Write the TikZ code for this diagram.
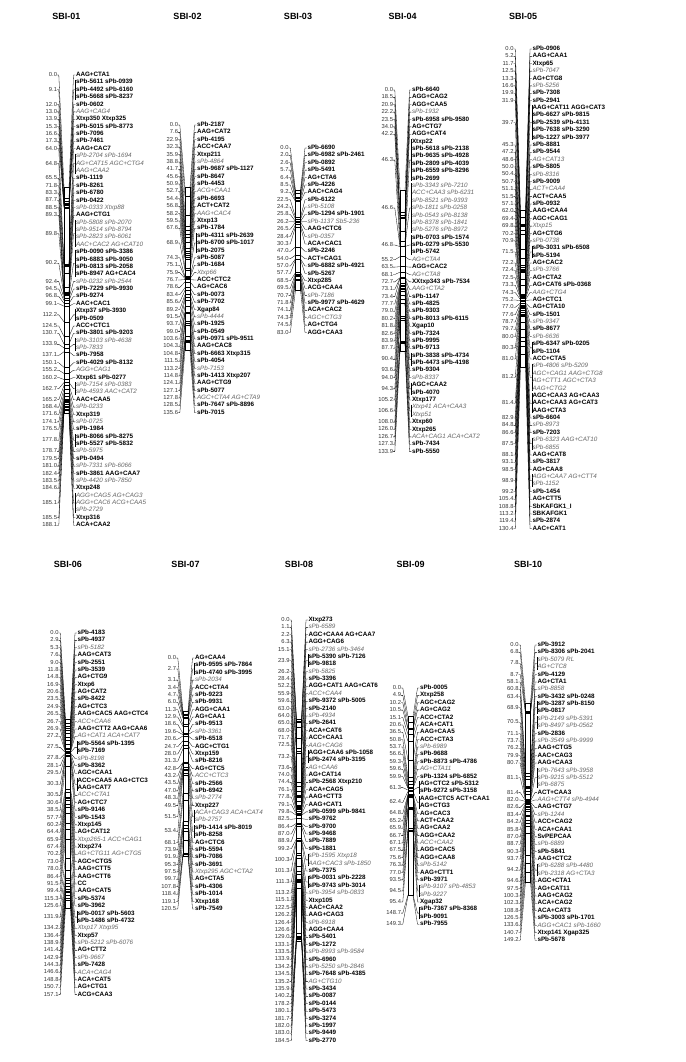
\documentclass[tikz,border=0pt]{standalone}
\usepackage{fontspec}
\setmainfont{Liberation Sans}
\newcount\Clnc \newcount\Cgnc
\def\Cdy{7.38}\def\Ccms{1.2}
\tikzset{
 num/.style={anchor=east, inner sep=0pt, outer sep=0pt, font=\fontsize{5.8}{6}\selectfont, text=black!80, text height=4pt, text depth=1pt},
 lb/.style={anchor=west, inner sep=0pt, outer sep=0pt, font=\fontsize{6.3}{6.5}\selectfont\bfseries, text height=4.4pt, text depth=1.3pt},
 li/.style={lb, font=\fontsize{6.3}{6.5}\selectfont\itshape, text=black!60},
 con/.style={line width=0.3pt, black},
 tickln/.style={line width=0.5pt, black},
 chrbar/.style={draw, line width=0.4pt, fill=white, minimum width=5pt, inner sep=0pt, outer sep=0pt},
 ttl/.style={font=\fontsize{9}{10}\selectfont\bfseries}
}
\newcommand\chrom[5]{%
  \xdef\Cid{#1}\xdef\Cxb{#2}\xdef\Cyone{#3}%
  \global\Clnc=0 \global\Cgnc=0
  \pgfmathsetmacro\Ctmpc{#3+(#4-1)*\Cdy/2}%
  \pgfmathsetmacro\Ctmpb{\Ctmpc-#5*\Ccms/2}\xdef\Cbtop{\Ctmpb}%
  \pgfmathsetmacro\Ctmph{#5*\Ccms}%
  \node[chrbar, minimum height=\Ctmph pt, anchor=north] (#1-bar) at (\Cxb,-\Cbtop) {};
}
\newcommand\mg[2]{%
  \global\advance\Cgnc by 1
  \pgfmathsetmacro\Cyg{\Cyone+(\the\Clnc+(#2-1)/2)*\Cdy}%
  \pgfmathsetmacro\Cyb{\Cbtop+#1*\Ccms}%
  \node[num] (\Cid-n\the\Cgnc) at (\Cxb-9.5,-\Cyg) {#1};
  \coordinate (\Cid-a\the\Cgnc) at (\Cxb-2.5,-\Cyb);
  \coordinate (\Cid-b\the\Cgnc) at (\Cxb+2.5,-\Cyb);
  \coordinate (\Cid-e\the\Cgnc) at (\Cxb+7,-\Cyg);
  \coordinate (\Cid-c\the\Cgnc) at (\Cxb+8.8,-\Cyg);
  \draw[con] (\Cid-n\the\Cgnc.east) -- ++(1.8,0) -- (\Cid-a\the\Cgnc);
  \draw[tickln] (\Cid-a\the\Cgnc) -- (\Cid-b\the\Cgnc);
  \draw[con] (\Cid-b\the\Cgnc) -- (\Cid-e\the\Cgnc) -- (\Cid-c\the\Cgnc);
  \ifnum#2>1\relax
    \coordinate (\Cid-f\the\Cgnc) at (\Cxb+8.8,-\Cyone-\the\Clnc*\Cdy+2.6);
    \coordinate (\Cid-g\the\Cgnc) at (\Cxb+8.8,-\Cyone-\the\Clnc*\Cdy-#2*\Cdy+\Cdy-2.6);
    \draw[con] (\Cid-f\the\Cgnc) -- (\Cid-g\the\Cgnc);
  \fi
}
\newcommand\mb[1]{\node[lb] (\Cid-l\the\Clnc) at (\Cxb+9.5,-\Cyone-\the\Clnc*\Cdy) {#1};\global\advance\Clnc by 1 }
\newcommand\mi[1]{\node[li] (\Cid-l\the\Clnc) at (\Cxb+9.5,-\Cyone-\the\Clnc*\Cdy) {#1};\global\advance\Clnc by 1 }
\begin{document}
\begin{tikzpicture}[x=1pt,y=1pt]
\fill[white] (0,0) rectangle (685,-1062);
\useasboundingbox (0,0) rectangle (685,-1062);
% titles
\node[ttl] (t1) at (66.5,-16) {SBI-01};
\node[ttl] (t2) at (187.5,-16) {SBI-02};
\node[ttl] (t3) at (298,-16) {SBI-03};
\node[ttl] (t4) at (402.5,-16) {SBI-04};
\node[ttl] (t5) at (523,-16) {SBI-05};
\node[ttl] (t6) at (68,-564) {SBI-06};
\node[ttl] (t7) at (185.5,-564) {SBI-07};
\node[ttl] (t8) at (299,-564) {SBI-08};
\node[ttl] (t9) at (410.5,-564) {SBI-09};
\node[ttl] (t10) at (528,-564) {SBI-10};
% SBI-01
\chrom{c1}{66.5}{75}{62}{188.1}
\mg{0.0}{1}\mb{AAG+CTA1}
\mg{9.1}{3}\mb{sPb-5611 sPb-0939}\mb{sPb-4492 sPb-6160}\mb{sPb-5668 sPb-8237}
\mg{12.0}{1}\mb{sPb-0602}
\mg{13.0}{1}\mi{AAG+CAG4}
\mg{13.9}{1}\mb{Xtxp350 Xtxp325}
\mg{15.3}{1}\mb{sPb-5015 sPb-8773}
\mg{16.6}{1}\mb{sPb-7096}
\mg{17.3}{1}\mb{sPb-7461}
\mg{64.0}{1}\mb{AAG+CAC7}
\mg{64.8}{3}\mi{sPb-2704 sPb-1694}\mi{AG+CAT15 AGC+CTG4}\mi{AAG+CAA2}
\mg{65.5}{1}\mb{sPb-1119}
\mg{71.8}{1}\mb{sPb-8261}
\mg{83.3}{1}\mb{sPb-6780}
\mg{87.7}{1}\mb{sPb-0422}
\mg{88.5}{1}\mi{sPb-0333 Xtxp88}
\mg{89.3}{1}\mb{AAG+CTG1}
\mg{89.8}{4}\mi{sPb-5808 sPb-2070}\mi{sPb-9514 sPb-8794}\mi{sPb-2823 sPb-6061}\mi{AAC+CAC2 AG+CAT10}
\mg{90.2}{4}\mb{sPb-0090 sPb-3386}\mb{sPb-6883 sPb-9050}\mb{sPb-0813 sPb-2058}\mb{sPb-8947 AG+CAC4}
\mg{92.4}{1}\mi{sPb-0232 sPb-2544}
\mg{94.5}{1}\mb{sPb-7229 sPb-9930}
\mg{96.8}{1}\mb{sPb-9274}
\mg{99.1}{1}\mb{AAC+CAC1}
\mg{112.2}{2}\mb{Xtxp37 sPb-3930}\mb{sPb-0509}
\mg{124.5}{1}\mb{ACC+CTC1}
\mg{130.7}{1}\mb{sPb-3801 sPb-9203}
\mg{133.9}{2}\mi{sPb-3103 sPb-4638}\mi{sPb-7833}
\mg{137.1}{1}\mb{sPb-7958}
\mg{150.1}{1}\mb{sPb-4029 sPb-8132}
\mg{155.2}{1}\mi{AGG+CAG1}
\mg{160.2}{1}\mb{Xtxp61 sPb-0277}
\mg{162.7}{2}\mi{sPb-7154 sPb-0383}\mi{sPb-4593 AAC+CAT2}
\mg{165.2}{1}\mb{AAC+CAA5}
\mg{168.4}{1}\mi{sPb-0233}
\mg{171.6}{1}\mb{Xtxp319}
\mg{174.1}{1}\mi{sPb-0725}
\mg{176.5}{1}\mb{sPb-1984}
\mg{177.8}{2}\mb{sPb-8066 sPb-8275}\mb{sPb-5527 sPb-5832}
\mg{178.7}{1}\mi{sPb-5975}
\mg{179.5}{1}\mb{sPb-0494}
\mg{181.0}{1}\mi{sPb-7331 sPb-6066}
\mg{182.4}{1}\mb{sPb-3861 AAG+CAA7}
\mg{183.5}{1}\mi{sPb-4420 sPb-7850}
\mg{184.6}{1}\mb{Xtxp248}
\mg{185.1}{3}\mi{AGG+CAG5 AG+CAG3}\mi{AGG+CAC6 ACG+CAA5}\mi{sPb-2729}
\mg{185.5}{1}\mb{Xtxp316}
\mg{188.1}{1}\mb{ACA+CAA2}
% SBI-02
\chrom{c2}{187.5}{125}{40}{135.6}
\mg{0.0}{1}\mb{sPb-2187}
\mg{7.6}{1}\mb{AAG+CAT2}
\mg{22.9}{1}\mb{sPb-4195}
\mg{32.3}{1}\mb{ACC+CAA7}
\mg{35.9}{1}\mb{Xtxp211}
\mg{38.8}{1}\mi{sPb-4864}
\mg{41.7}{1}\mb{sPb-9687 sPb-1127}
\mg{45.6}{1}\mb{sPb-8647}
\mg{50.9}{1}\mb{sPb-4453}
\mg{52.7}{1}\mi{ACG+CAA1}
\mg{54.4}{1}\mb{sPb-6693}
\mg{56.8}{1}\mb{ACT+CAT2}
\mg{58.2}{1}\mi{AAG+CAC4}
\mg{59.5}{1}\mb{Xtxp13}
\mg{67.6}{1}\mb{sPb-1784}
\mg{68.9}{3}\mb{sPb-4311 sPb-2639}\mb{sPb-6700 sPb-1017}\mb{sPb-2075}
\mg{74.3}{1}\mb{sPb-5087}
\mg{75.1}{1}\mb{sPb-1684}
\mg{75.9}{1}\mi{Xtxp66}
\mg{76.7}{1}\mb{ACC+CTC2}
\mg{78.6}{1}\mb{AG+CAC6}
\mg{83.4}{1}\mb{sPb-0073}
\mg{85.6}{1}\mb{sPb-7702}
\mg{89.2}{1}\mb{Xgap84}
\mg{91.5}{1}\mi{sPb-4444}
\mg{93.7}{1}\mb{sPb-1925}
\mg{99.0}{1}\mb{sPb-0549}
\mg{103.6}{1}\mb{sPb-0971 sPb-9511}
\mg{104.3}{1}\mb{AAG+CAC8}
\mg{104.8}{1}\mb{sPb-6663 Xtxp315}
\mg{111.5}{1}\mb{sPb-4054}
\mg{113.2}{1}\mi{sPb-7153}
\mg{114.8}{1}\mb{sPb-1413 Xtxp207}
\mg{124.1}{1}\mb{AAG+CTG9}
\mg{127.1}{1}\mb{sPb-5077}
\mg{127.8}{1}\mi{AGC+CTA4 AG+CTA9}
\mg{128.5}{1}\mb{sPb-7647 sPb-8896}
\mg{135.6}{1}\mb{sPb-7015}
% SBI-03
\chrom{c3}{298}{148}{26}{83.0}
\mg{0.0}{1}\mb{sPb-6690}
\mg{2.0}{1}\mb{sPb-6982 sPb-2461}
\mg{2.6}{1}\mb{sPb-0892}
\mg{5.7}{1}\mb{sPb-5491}
\mg{6.4}{1}\mb{AG+CTA6}
\mg{8.5}{1}\mb{sPb-4226}
\mg{9.2}{1}\mb{AAC+CAG4}
\mg{22.5}{1}\mb{sPb-6122}
\mg{24.2}{1}\mi{sPb-5108}
\mg{25.8}{1}\mb{sPb-1294 sPb-1901}
\mg{26.2}{1}\mi{sPb-1137 Sb5-236}
\mg{26.5}{1}\mb{AAG+CTC6}
\mg{28.4}{1}\mi{sPb-0357}
\mg{30.3}{1}\mb{ACA+CAC1}
\mg{47.0}{1}\mb{sPb-2246}
\mg{54.0}{1}\mb{ACT+CAG1}
\mg{57.0}{1}\mb{sPb-6882 sPb-4921}
\mg{57.7}{1}\mb{sPb-5267}
\mg{68.5}{1}\mb{Xtxp285}
\mg{69.5}{1}\mb{ACG+CAA4}
\mg{70.7}{1}\mi{sPb-7186}
\mg{71.8}{1}\mb{sPb-9977 sPb-4629}
\mg{74.1}{1}\mb{ACA+CAC2}
\mg{74.3}{1}\mi{AGC+CTG3}
\mg{74.5}{1}\mb{AG+CTG4}
\mg{83.0}{1}\mb{AGG+CAA3}
% SBI-04
\chrom{c4}{402.5}{90}{50}{133.9}
\mg{0.0}{1}\mb{sPb-6640}
\mg{18.5}{1}\mb{AGG+CAG2}
\mg{20.9}{1}\mb{AGG+CAA5}
\mg{22.2}{1}\mi{sPb-1932}
\mg{23.5}{1}\mb{sPb-6958 sPb-9580}
\mg{34.0}{1}\mb{AG+CTG7}
\mg{42.2}{1}\mb{AGG+CAT4}
\mg{46.3}{6}\mb{Xtxp22}\mb{sPb-5618 sPb-2138}\mb{sPb-9635 sPb-4928}\mb{sPb-2809 sPb-4039}\mb{sPb-6559 sPb-8296}\mb{sPb-2699}
\mg{46.6}{7}\mi{sPb-3343 sPb-7210}\mi{ACC+CAA3 sPb-6231}\mi{sPb-8521 sPb-9393}\mi{sPb-1811 sPb-0258}\mi{sPb-0543 sPb-8138}\mi{sPb-8378 sPb-1841}\mi{sPb-5276 sPb-8972}
\mg{46.8}{3}\mb{sPb-0703 sPb-1574}\mb{sPb-0279 sPb-5530}\mb{sPb-5742}
\mg{55.2}{1}\mi{AG+CTA4}
\mg{63.5}{1}\mb{AGG+CAC2}
\mg{68.1}{1}\mi{AG+CTA8}
\mg{72.7}{1}\mb{XXtxp343 sPb-7534}
\mg{73.1}{1}\mi{AAG+CTA2}
\mg{73.4}{1}\mb{sPb-1147}
\mg{77.7}{1}\mb{sPb-4825}
\mg{79.0}{1}\mb{sPb-9303}
\mg{80.2}{1}\mb{sPb-8013 sPb-6115}
\mg{81.8}{1}\mb{Xgap10}
\mg{82.6}{1}\mb{sPb-7324}
\mg{83.9}{1}\mb{sPb-9995}
\mg{87.7}{1}\mb{sPb-9713}
\mg{90.4}{2}\mb{sPb-3838 sPb-4734}\mb{sPb-4473 sPb-4198}
\mg{93.6}{1}\mb{sPb-9304}
\mg{94.0}{1}\mi{sPb-8337}
\mg{94.3}{2}\mb{AGC+CAA2}\mb{sPb-4070}
\mg{105.2}{1}\mb{Xtxp177}
\mg{106.6}{2}\mi{Xtxp41 ACA+CAA3}\mi{Xtxp51}
\mg{108.0}{1}\mb{Xtxp60}
\mg{126.0}{1}\mb{Xtxp265}
\mg{126.7}{1}\mi{ACA+CAG1 ACA+CAT2}
\mg{127.3}{1}\mb{sPb-7434}
\mg{133.9}{1}\mb{sPb-5550}
% SBI-05
\chrom{c5}{523}{49}{66}{130.4}
\mg{0.0}{1}\mb{sPb-0906}
\mg{5.2}{1}\mb{AAG+CAA1}
\mg{11.7}{1}\mb{Xtxp65}
\mg{12.5}{1}\mi{sPb-7047}
\mg{13.3}{1}\mb{AG+CTG8}
\mg{16.6}{1}\mi{sPb-5256}
\mg{19.9}{1}\mb{sPb-7308}
\mg{31.9}{1}\mb{sPb-2941}
\mg{39.7}{5}\mb{AAG+CAT11 AGG+CAT3}\mb{sPb-6627 sPb-9815}\mb{sPb-2539 sPb-4131}\mb{sPb-7638 sPb-3290}\mb{sPb-1227 sPb-3977}
\mg{45.3}{1}\mb{sPb-8881}
\mg{47.2}{1}\mb{sPb-9544}
\mg{48.6}{1}\mi{AG+CAT13}
\mg{50.0}{1}\mb{sPb-5805}
\mg{50.4}{1}\mi{sPb-8316}
\mg{50.7}{1}\mb{sPb-9009}
\mg{51.1}{1}\mi{ACT+CAA4}
\mg{51.5}{1}\mb{ACT+CAA5}
\mg{57.1}{1}\mb{sPb-0932}
\mg{62.0}{1}\mb{AAG+CAA4}
\mg{69.4}{1}\mb{AGC+CAG1}
\mg{69.8}{1}\mi{Xtxp15}
\mg{70.2}{1}\mb{AG+CTG6}
\mg{70.9}{1}\mi{sPb-0738}
\mg{71.5}{2}\mb{sPb-3031 sPb-6508}\mb{sPb-5194}
\mg{72.2}{1}\mb{AG+CAC2}
\mg{72.4}{1}\mi{sPb-3766}
\mg{72.5}{1}\mb{AG+CTA2}
\mg{73.3}{1}\mb{AG+CAT6 sPb-0368}
\mg{74.3}{1}\mi{AAG+CTG4}
\mg{75.2}{1}\mb{AG+CTC1}
\mg{77.0}{1}\mb{AG+CTA10}
\mg{77.6}{1}\mb{sPb-1501}
\mg{78.7}{1}\mi{sPb-9347}
\mg{79.7}{1}\mb{sPb-8677}
\mg{80.0}{1}\mi{sPb-6636}
\mg{80.3}{2}\mb{sPb-6347 sPb-0205}\mb{sPb-1104}
\mg{81.0}{1}\mb{ACC+CTA5}
\mg{81.2}{4}\mi{sPb-4806 sPb-5209}\mi{AGC+CAG1 AAG+CTG8}\mi{AG+CTT1 AGC+CTA3}\mi{AAG+CTG2}
\mg{81.4}{3}\mb{AGC+CAA3 AG+CAA3}\mb{AAC+CAA3 AG+CAT3}\mb{AAG+CTA3}
\mg{82.9}{1}\mb{sPb-6604}
\mg{84.8}{1}\mi{sPb-8973}
\mg{86.6}{1}\mb{sPb-7203}
\mg{87.5}{2}\mi{sPb-6323 AAG+CAT10}\mi{sPb-6855}
\mg{88.1}{1}\mb{AAG+CAT8}
\mg{93.1}{1}\mb{sPb-3817}
\mg{98.5}{1}\mb{AG+CAA8}
\mg{98.9}{2}\mi{AGG+CAA7 AG+CTT4}\mi{sPb-1152}
\mg{99.2}{1}\mb{sPb-1454}
\mg{105.4}{1}\mb{AG+CTT5}
\mg{108.8}{1}\mb{SbKAFGK1\_I}
\mg{113.2}{1}\mb{SBKAFGK1}
\mg{119.4}{1}\mb{sPb-2874}
\mg{130.4}{1}\mb{AAC+CAT1}
% SBI-06
\chrom{c6}{68}{633}{50}{157.1}
\mg{0.0}{1}\mb{sPb-4183}
\mg{2.9}{1}\mb{sPb-4937}
\mg{5.3}{1}\mi{sPb-5182}
\mg{7.6}{1}\mb{AAG+CAT3}
\mg{9.0}{1}\mb{sPb-2551}
\mg{11.8}{1}\mb{sPb-3539}
\mg{14.8}{1}\mb{AG+CTG9}
\mg{16.9}{1}\mb{Xtxp6}
\mg{20.6}{1}\mb{AG+CAT2}
\mg{23.5}{1}\mb{sPb-8422}
\mg{24.9}{1}\mb{AG+CTC3}
\mg{26.5}{1}\mb{AAG+CAC5 AAG+CTC4}
\mg{26.7}{1}\mi{ACC+CAA6}
\mg{26.9}{1}\mb{AAG+CTT2 AAG+CAA6}
\mg{27.2}{1}\mi{AG+CAT1 ACA+CAT7}
\mg{27.5}{2}\mb{sPb-5564 sPb-1395}\mb{sPb-7169}
\mg{27.8}{1}\mi{sPb-8198}
\mg{28.1}{1}\mb{sPb-8362}
\mg{29.5}{1}\mb{AGC+CAA1}
\mg{30.3}{2}\mb{ACC+CAA5 AAG+CTC3}\mb{AAG+CAT7}
\mg{30.5}{1}\mi{ACC+CTA1}
\mg{30.6}{1}\mb{AG+CTC7}
\mg{38.5}{1}\mb{sPb-9146}
\mg{57.7}{1}\mb{sPb-1543}
\mg{60.2}{1}\mb{Xtxp145}
\mg{64.4}{1}\mb{AG+CAT12}
\mg{65.9}{1}\mi{Xtxp265-1 ACC+CAG1}
\mg{67.4}{1}\mb{Xtxp274}
\mg{70.2}{1}\mi{AG+CTG11 AG+CTG5}
\mg{73.0}{1}\mb{AGC+CTG5}
\mg{78.0}{1}\mb{AAG+CTT5}
\mg{86.4}{1}\mb{AAG+CTT6}
\mg{91.5}{1}\mb{CC}
\mg{99.4}{1}\mb{AAG+CAT5}
\mg{115.3}{1}\mb{sPb-5374}
\mg{125.6}{1}\mb{sPb-3962}
\mg{131.9}{2}\mb{sPb-0017 sPb-5603}\mb{sPb-1486 sPb-4732}
\mg{134.2}{1}\mi{Xtxp17 Xtxp95}
\mg{136.4}{1}\mb{Xtxp57}
\mg{138.9}{1}\mi{sPb-5212 sPb-6076}
\mg{141.4}{1}\mb{AG+CTT2}
\mg{142.9}{1}\mi{sPb-9667}
\mg{144.3}{1}\mb{sPb-7428}
\mg{146.6}{1}\mi{ACA+CAG4}
\mg{148.8}{1}\mb{ACA+CAT5}
\mg{150.7}{1}\mb{AG+CTG1}
\mg{157.1}{1}\mb{ACG+CAA3}
% SBI-07
\chrom{c7}{185.5}{658}{35}{120.5}
\mg{0.0}{1}\mb{AG+CAA4}
\mg{2.7}{2}\mb{sPb-9595 sPb-7864}\mb{sPb-4740 sPb-3995}
\mg{3.1}{1}\mi{sPb-2034}
\mg{3.4}{1}\mb{ACC+CTA4}
\mg{4.7}{1}\mb{sPb-9223}
\mg{6.0}{1}\mb{sPb-9931}
\mg{11.3}{1}\mb{AGG+CAA1}
\mg{12.9}{1}\mb{AG+CAA1}
\mg{18.6}{1}\mb{sPb-9513}
\mg{19.6}{1}\mi{sPb-3361}
\mg{20.6}{1}\mb{sPb-6518}
\mg{24.7}{1}\mb{AGC+CTG1}
\mg{28.0}{1}\mb{Xtxp159}
\mg{31.3}{1}\mb{sPb-8216}
\mg{42.8}{1}\mb{AG+CTC5}
\mg{43.2}{1}\mi{ACC+CTC3}
\mg{43.5}{1}\mb{sPb-2566}
\mg{47.0}{1}\mb{sPb-6942}
\mg{48.3}{1}\mi{sPb-2774}
\mg{49.5}{1}\mb{Xtxp227}
\mg{51.5}{2}\mi{ACA+CAG3 ACA+CAT4}\mi{sPb-2757}
\mg{53.4}{2}\mb{sPb-1414 sPb-8019}\mb{sPb-8258}
\mg{68.1}{1}\mb{AG+CTC6}
\mg{73.9}{1}\mb{sPb-5594}
\mg{91.9}{1}\mb{sPb-7086}
\mg{95.3}{1}\mb{sPb-3691}
\mg{97.5}{1}\mi{Xtxp295 AGC+CTA2}
\mg{99.7}{1}\mb{AG+CTA5}
\mg{107.8}{1}\mb{sPb-4306}
\mg{118.4}{1}\mb{sPb-1014}
\mg{119.1}{1}\mb{Xtxp168}
\mg{120.5}{1}\mb{sPb-7549}
% SBI-08
\chrom{c8}{299}{620}{58}{184.5}
\mg{0.0}{1}\mb{Xtxp273}
\mg{1.1}{1}\mi{sPb-6589}
\mg{2.2}{1}\mb{AGC+CAA4 AG+CAA7}
\mg{6.3}{1}\mb{AGG+CAG6}
\mg{15.1}{1}\mi{sPb-2736 sPb-3464}
\mg{23.9}{2}\mb{sPb-5390 sPb-7126}\mb{sPb-9818}
\mg{26.2}{1}\mi{sPb-5825}
\mg{28.4}{1}\mb{sPb-3396}
\mg{52.2}{1}\mb{AGG+CAT1 AAG+CAT6}
\mg{55.9}{1}\mi{ACC+CAA4}
\mg{59.6}{1}\mb{sPb-9372 sPb-5005}
\mg{63.0}{1}\mb{sPb-2140}
\mg{64.0}{1}\mi{sPb-4934}
\mg{65.0}{1}\mb{sPb-2641}
\mg{68.0}{1}\mb{ACA+CAT6}
\mg{71.7}{1}\mb{ACC+CAA1}
\mg{72.5}{1}\mi{AAG+CAG6}
\mg{73.2}{2}\mb{AGG+CAA6 sPb-1058}\mb{sPb-2474 sPb-3195}
\mg{73.6}{1}\mi{AG+CAA6}
\mg{74.0}{1}\mb{AG+CAT14}
\mg{74.4}{1}\mb{sPb-2568 Xtxp210}
\mg{76.1}{1}\mb{ACA+CAG5}
\mg{77.8}{1}\mb{AAG+CTT3}
\mg{79.1}{1}\mb{AAG+CAT1}
\mg{79.8}{1}\mb{sPb-0599 sPb-9841}
\mg{82.5}{1}\mb{sPb-9762}
\mg{86.4}{1}\mb{sPb-9700}
\mg{87.0}{1}\mb{sPb-9468}
\mg{88.9}{1}\mb{sPb-7889}
\mg{99.2}{1}\mb{sPb-1881}
\mg{100.3}{2}\mi{sPb-1595 Xtxp18}\mi{AAG+CAC3 sPb-1850}
\mg{101.3}{1}\mb{sPb-7375}
\mg{111.3}{2}\mb{sPb-0031 sPb-2228}\mb{sPb-9743 sPb-3014}
\mg{113.2}{1}\mi{sPb-3954 sPb-0833}
\mg{115.1}{1}\mb{Xtxp105}
\mg{122.5}{1}\mb{AAC+CAA2}
\mg{126.2}{1}\mb{AAG+CAG3}
\mg{126.4}{1}\mi{sPb-6918}
\mg{126.6}{1}\mb{AGG+CAA4}
\mg{129.0}{1}\mb{sPb-5401}
\mg{133.1}{1}\mb{sPb-1272}
\mg{133.5}{1}\mi{sPb-8993 sPb-9584}
\mg{133.9}{1}\mb{sPb-6960}
\mg{134.2}{1}\mi{sPb-5250 sPb-2846}
\mg{134.5}{1}\mb{sPb-7648 sPb-4385}
\mg{135.2}{1}\mi{AG+CTG10}
\mg{135.9}{1}\mb{sPb-3434}
\mg{140.2}{1}\mb{sPb-0087}
\mg{178.2}{1}\mb{sPb-0144}
\mg{180.1}{1}\mb{sPb-5473}
\mg{181.7}{1}\mb{sPb-3274}
\mg{182.0}{1}\mb{sPb-1997}
\mg{183.0}{1}\mb{sPb-9449}
\mg{184.5}{1}\mb{sPb-2770}
% SBI-09
\chrom{c9}{410.5}{688}{33}{149.3}
\mg{0.0}{1}\mb{sPb-0005}
\mg{4.9}{1}\mb{Xtxp258}
\mg{10.2}{1}\mb{AGC+CAG2}
\mg{10.5}{1}\mb{AG+CAG2}
\mg{15.1}{1}\mb{ACC+CTA2}
\mg{20.6}{1}\mb{ACA+CAT1}
\mg{36.5}{1}\mb{AAG+CAA5}
\mg{50.8}{1}\mb{ACC+CTA3}
\mg{53.7}{1}\mi{sPb-6989}
\mg{56.6}{1}\mb{sPb-9688}
\mg{59.3}{1}\mb{sPb-8873 sPb-4786}
\mg{59.6}{1}\mi{AG+CTA11}
\mg{59.9}{1}\mb{sPb-1324 sPb-6852}
\mg{61.3}{2}\mb{AG+CTC2 sPb-5312}\mb{sPb-9272 sPb-3158}
\mg{62.4}{2}\mb{AAG+CTC5 ACT+CAA1}\mb{AG+CTG3}
\mg{64.8}{1}\mb{AG+CAC3}
\mg{65.2}{1}\mb{ACT+CAA2}
\mg{65.9}{1}\mb{AG+CAA2}
\mg{66.7}{1}\mb{AGG+CAA2}
\mg{67.1}{1}\mi{ACC+CAA2}
\mg{67.5}{1}\mb{AGG+CAC5}
\mg{75.6}{1}\mb{AGG+CAA8}
\mg{76.3}{1}\mi{sPb-5142}
\mg{77.0}{1}\mb{AAG+CTT1}
\mg{93.5}{1}\mb{sPb-3971}
\mg{94.5}{2}\mi{sPb-9107 sPb-4853}\mi{sPb-9227}
\mg{95.4}{1}\mb{Xgap32}
\mg{148.7}{2}\mb{sPb-7367 sPb-8368}\mb{sPb-9091}
\mg{149.3}{1}\mb{sPb-7955}
% SBI-10
\chrom{c10}{528}{645}{41}{149.2}
\mg{0.0}{1}\mb{sPb-3912}
\mg{6.8}{1}\mb{sPb-8306 sPb-2041}
\mg{7.8}{2}\mi{sPb-5079 RL}\mi{AG+CTC8}
\mg{8.7}{1}\mb{sPb-4129}
\mg{58.1}{1}\mb{AG+CTA1}
\mg{60.8}{1}\mi{sPb-8858}
\mg{63.4}{1}\mb{sPb-3432 sPb-0248}
\mg{68.9}{2}\mb{sPb-3287 sPb-8150}\mb{sPb-0817}
\mg{70.5}{2}\mi{sPb-2149 sPb-5391}\mi{sPb-8497 sPb-0562}
\mg{71.1}{1}\mb{sPb-2836}
\mg{73.7}{1}\mi{sPb-3549 sPb-9999}
\mg{76.2}{1}\mb{AAG+CTG5}
\mg{79.9}{1}\mb{AAC+CAG3}
\mg{80.7}{1}\mb{AAG+CAA3}
\mg{81.1}{3}\mi{sPb-7643 sPb-3958}\mi{sPb-9215 sPb-5512}\mi{sPb-6875}
\mg{81.4}{1}\mb{ACT+CAA3}
\mg{82.0}{1}\mi{AAG+CTT4 sPb-4944}
\mg{82.6}{1}\mb{AAG+CTG7}
\mg{83.4}{1}\mi{sPb-1244}
\mg{84.2}{1}\mb{ACC+CAG2}
\mg{85.8}{1}\mb{ACA+CAA1}
\mg{87.0}{1}\mb{SvPEPCAA}
\mg{88.7}{1}\mi{sPb-6889}
\mg{90.3}{1}\mb{sPb-5841}
\mg{93.7}{1}\mb{AAG+CTC2}
\mg{94.2}{2}\mi{sPb-6288 sPb-4480}\mi{sPb-2318 AG+CTA3}
\mg{94.6}{1}\mb{AGC+CTA1}
\mg{97.5}{1}\mb{AG+CAT11}
\mg{100.3}{1}\mb{AAG+CAG2}
\mg{102.3}{1}\mb{ACA+CAG2}
\mg{108.8}{1}\mb{ACA+CAT3}
\mg{126.5}{1}\mb{sPb-3003 sPb-1701}
\mg{133.6}{1}\mi{AGG+CAC1 sPb-1660}
\mg{140.7}{1}\mb{Xtxp141 Xgap325}
\mg{149.2}{1}\mb{sPb-5678}
\end{tikzpicture}
\end{document}
